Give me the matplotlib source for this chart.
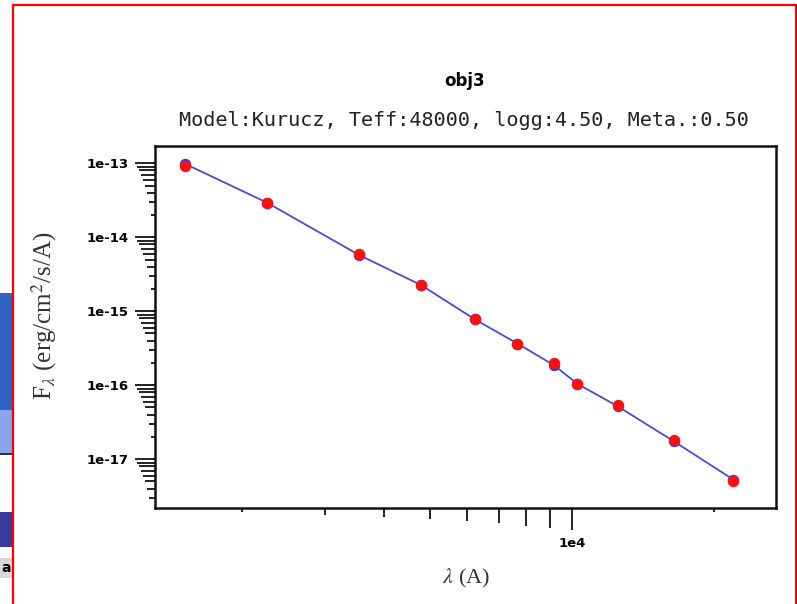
import matplotlib
matplotlib.use("Agg")
import matplotlib.pyplot as plt
import matplotlib.transforms as mtransforms
from matplotlib.markers import TICKLEFT, TICKDOWN
from matplotlib.patches import Rectangle

plt.rcParams["mathtext.fontset"] = "stix"

# photometric points: wavelength (A), observed and model flux (erg/cm^2/s/A)
wave = [1520, 2265, 3550, 4800, 6240, 7670, 9170, 10260, 12500, 16430, 21960]
flux_obs = [9.2e-14, 2.93e-14, 5.93e-15, 2.25e-15, 7.74e-16, 3.66e-16,
            1.97e-16, 1.05e-16, 5.36e-17, 1.80e-17, 5.08e-18]
flux_mod = [9.8e-14, 2.93e-14, 5.74e-15, 2.25e-15, 7.74e-16, 3.66e-16,
            1.86e-16, 1.05e-16, 5.20e-17, 1.75e-17, 5.31e-18]

title = "obj3"
subtitle = "Model:Kurucz, Teff:48000, logg:4.50, Meta.:0.50"
xlim = (1312, 27050)
ylim = (2.19e-18, 1.71e-13)
ytick_labels = {1e-13: "1e-13", 1e-14: "1e-14", 1e-15: "1e-15",
                1e-16: "1e-16", 1e-17: "1e-17"}
xtick_labels = {1e4: "1e4"}

fig = plt.figure(figsize=(7.97, 6.04), dpi=100)
ax = fig.add_axes([155 / 797, 1 - 508 / 604, 621 / 797, 362 / 604])

ax.plot(wave, flux_mod, color="#4a4ad8", lw=1.3, zorder=2)
ax.plot(wave, flux_mod, "o", color="#3a3ad0", ms=7.2, mec="#3a3ad0", zorder=3)
ax.plot(wave, flux_obs, "o", color="#ff1010", ms=7.2, mec="#ff1010", zorder=4)

ax.set_xscale("log")
ax.set_yscale("log")
ax.set_xlim(*xlim)
ax.set_ylim(*ylim)

for s in ax.spines.values():
    s.set_linewidth(1.8)
    s.set_color("#111111")

# labels only on the main decades, tick marks drawn below
ax.set_yticks(list(ytick_labels.keys()))
ax.set_yticklabels(list(ytick_labels.values()))
ax.set_xticks(list(xtick_labels.keys()))
ax.set_xticklabels(list(xtick_labels.values()))
ax.minorticks_off()
ax.tick_params(axis="y", length=0, pad=19, labelsize=9.5)
ax.tick_params(axis="x", length=0, pad=21, labelsize=9.5)
for lab in ax.get_xticklabels() + ax.get_yticklabels():
    lab.set_fontweight("bold")

# comb-style ticks: length grows with the mantissa
px = 0.72
ytr = mtransforms.blended_transform_factory(ax.transAxes, ax.transData)
xtr = mtransforms.blended_transform_factory(ax.transData, ax.transAxes)
for e in range(-18, -12):
    for m in range(1, 11):
        v = m * 10.0 ** e
        if ylim[0] <= v <= ylim[1]:
            ax.plot([0], [v], marker=TICKLEFT, ms=2.0 * m * px, mew=1.3,
                    color="#111111", transform=ytr, clip_on=False)
for e in range(3, 5):
    for m in range(1, 11):
        v = m * 10.0 ** e
        if xlim[0] <= v <= xlim[1]:
            ax.plot([v], [0], marker=TICKDOWN, ms=2.2 * m * px, mew=1.3,
                    color="#111111", transform=xtr, clip_on=False)

serif = ["Liberation Serif", "DejaVu Serif"]
ax.set_ylabel(r"F$_\lambda$ (erg/cm$^2$/s/A)", family=serif, fontsize=18,
              color="#333333")
ax.yaxis.set_label_coords(-0.155, 0.53)
ax.set_xlabel(r"$\lambda$ (A)", family=serif, fontsize=16, color="#333333")
ax.xaxis.set_label_coords(0.5, -0.163)

fig.text(465 / 797, 1 - 81 / 604, title, ha="center", va="center",
         fontsize=12, fontweight="bold", family="DejaVu Sans")
fig.text(464 / 797, 1 - 121 / 604, subtitle, ha="center", va="center",
         fontsize=14.5, family="DejaVu Sans Mono", color="#222222")

# page fragments around the frame
W, H = 797, 604
def box(x, y, w, h, c):
    fig.add_artist(Rectangle((x / W, 1 - (y + h) / H), w / W, h / H,
                             transform=fig.transFigure, color=c, lw=0))
box(0, 293, 13, 117, "#2e62c4")
box(0, 410, 13, 43, "#8aa4ee")
box(0, 453, 13, 2, "#333333")
box(0, 512, 13, 35, "#3a3a9a")
box(0, 558, 13, 20, "#d8d8d8")
fig.text(1 / W, 1 - 568 / H, "a", fontsize=10, fontweight="bold", va="center")
fig.add_artist(plt.Line2D([13 / W, 13 / W, 796 / W], [0, 1 - 5 / H, 1 - 5 / H],
                          transform=fig.transFigure, color="red", lw=1.6))
fig.add_artist(plt.Line2D([796 / W, 796 / W], [1 - 5 / H, 0],
                          transform=fig.transFigure, color="red", lw=1.6))

fig.savefig("out.png", dpi=100)
